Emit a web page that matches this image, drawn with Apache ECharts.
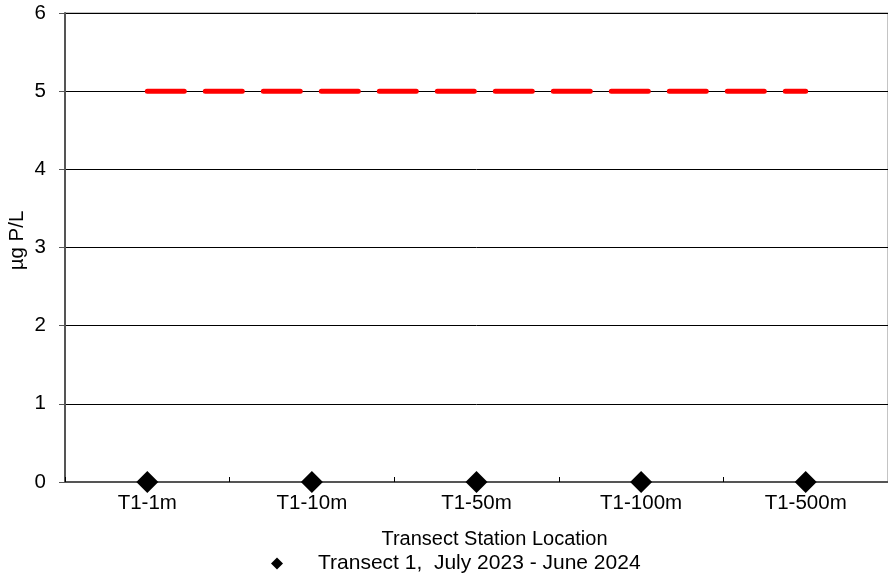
<!DOCTYPE html>
<html><head><meta charset="utf-8">
<script src="https://cdn.jsdelivr.net/npm/echarts@6/dist/echarts.min.js"></script>
<style>html,body{margin:0;padding:0;background:#fff}#c{width:888px;height:581px}</style>
</head><body><div id="c"></div>
<script>
const categories = ['T1-1m','T1-10m','T1-50m','T1-100m','T1-500m'];
const transect1 = [0,0,0,0,0];
const criterion = [5,5,5,5,5];
const yTicks = [0,1,2,3,4,5,6];
const seriesName = 'Transect 1,  July 2023 - June 2024';
const font = 'Liberation Sans, Arial, sans-serif';
const fs = 20.5;
const chart = echarts.init(document.getElementById('c'));
chart.setOption({
  animation:false,
  grid:{left:65,right:0,top:13,bottom:99,containLabel:false,outerBoundsMode:'none',show:true,borderColor:'#888',borderWidth:1},
  legend:{top:553,left:271,data:[{name:seriesName,icon:'diamond',itemStyle:{opacity:1}}],itemWidth:12,itemHeight:12,itemGap:10,padding:0,
    textStyle:{fontFamily:font,fontSize:21,color:'#000',padding:[0,0,0,30]}},
  xAxis:{type:'category',data:categories,boundaryGap:true,
    name:'Transect Station Location',nameLocation:'middle',nameGap:47,nameMoveOverlap:false,
    nameTextStyle:{fontFamily:font,fontSize:20,color:'#000',padding:[0,0,0,36]},
    axisLine:{lineStyle:{color:'#555',width:2}},
    axisTick:{show:true,alignWithLabel:false,length:5,inside:true,lineStyle:{color:'#000'}},
    axisLabel:{fontFamily:font,fontSize:fs,color:'#000',margin:11}},
  yAxis:{type:'value',min:0,max:6,interval:1,
    name:'µg P/L',nameLocation:'middle',nameGap:37,nameMoveOverlap:false,
    nameTextStyle:{fontFamily:font,fontSize:fs,color:'#000',padding:[0,0,0,14]},
    axisLine:{show:true,lineStyle:{color:'#555',width:2}},
    axisTick:{show:true,length:6,lineStyle:{color:'#555'}},
    splitLine:{show:true,lineStyle:{color:'#000',width:1}},
    axisLabel:{fontFamily:font,fontSize:fs,color:'#000',margin:19,
      formatter:v=>yTicks.includes(v)?String(v):''}},
  series:[
    {name:'criterion',type:'line',data:criterion,symbol:'none',silent:true,
      lineStyle:{color:'#ff0000',width:5,type:[37,21],cap:'round'},z:3},
    {name:seriesName,type:'scatter',data:transect1,symbol:'diamond',symbolSize:22,
      itemStyle:{color:'#000',opacity:1},z:5}
  ]
});
</script></body></html>
